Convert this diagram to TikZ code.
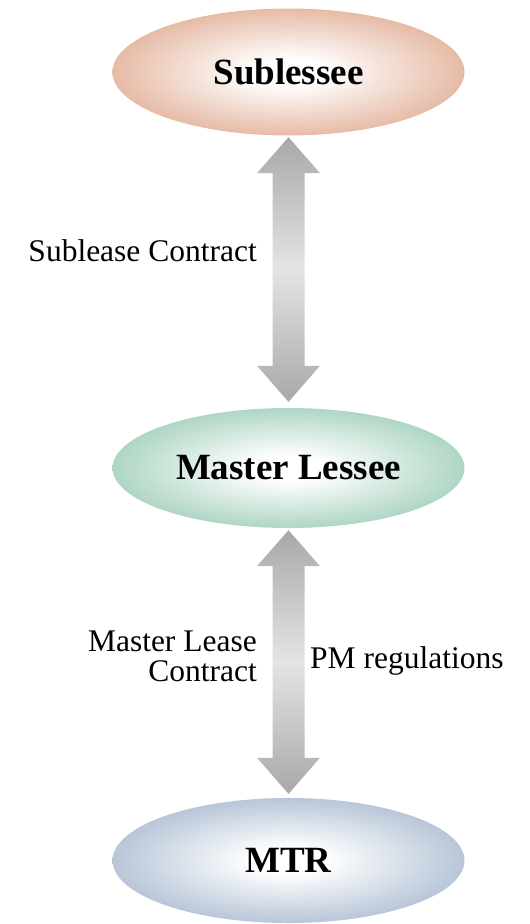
\documentclass[tikz,border=0pt]{standalone}
\usepackage{fontspec}
\setmainfont{Liberation Serif}
\usetikzlibrary{shapes.geometric,calc}
\definecolor{subc}{HTML}{E6BBA6}
\definecolor{mlc}{HTML}{AFD6C4}
\definecolor{mtrc}{HTML}{B8C6D8}
\definecolor{arrd}{HTML}{A8A8A8}
\definecolor{arrl}{HTML}{E4E4E4}
\pgfdeclareradialshading{subshade}{\pgfpoint{0bp}{0bp}}{color(0bp)=(white); color(5bp)=(white); color(25bp)=(subc); color(50bp)=(subc)}
\pgfdeclareradialshading{mlshade}{\pgfpoint{0bp}{0bp}}{color(0bp)=(white); color(5bp)=(white); color(25bp)=(mlc); color(50bp)=(mlc)}
\pgfdeclareradialshading{mtrshade}{\pgfpoint{0bp}{0bp}}{color(0bp)=(white); color(5bp)=(white); color(25bp)=(mtrc); color(50bp)=(mtrc)}
\newcommand\dblarrow[4]{%
  \path[shade, top color=arrd, bottom color=arrd, middle color=arrl]
    let \p1=($(#1.south)+(0,#3)$), \p2=($(#2.north)+(0,-#4)$) in
    (\x1,\y1) -- ({\x1+31.5pt},{\y1-36pt}) -- ({\x1+16pt},{\y1-36pt})
    -- ({\x1+16pt},{\y2+36pt}) -- ({\x1+31.5pt},{\y2+36pt}) -- (\x1,\y2)
    -- ({\x1-31.5pt},{\y2+36pt}) -- ({\x1-16pt},{\y2+36pt})
    -- ({\x1-16pt},{\y1-36pt}) -- ({\x1-31.5pt},{\y1-36pt}) -- cycle;}
\begin{document}
\begin{tikzpicture}[x=1pt,y=-1pt,
  ell/.style={ellipse, shade, minimum width=352pt, inner sep=0pt,
    font=\fontsize{37}{40}\selectfont\bfseries},
  lbl/.style={font=\fontsize{31.5}{30}\selectfont, inner sep=0pt}]
\useasboundingbox (0,0) rectangle (530,924);
\node[ell, minimum height=127pt, shading=subshade] (sub) at (288.5,72) {Sublessee};
\node[ell, minimum height=120pt, shading=mlshade] (ml) at (288.5,468) {Master Lessee};
\node[ell, minimum height=125pt, shading=mtrshade] (mtr) at (288.5,860.5) {MTR};
\dblarrow{sub}{ml}{1.5}{6}
\dblarrow{ml}{mtr}{2}{4}
\node[lbl, anchor=east] (l1) at (257,251) {Sublease Contract};
\node[lbl, anchor=east, align=right] (l2) at (257,656) {Master Lease\\Contract};
\node[lbl, anchor=west] (l3) at (310,661) {PM regulations};
\end{tikzpicture}
\end{document}
